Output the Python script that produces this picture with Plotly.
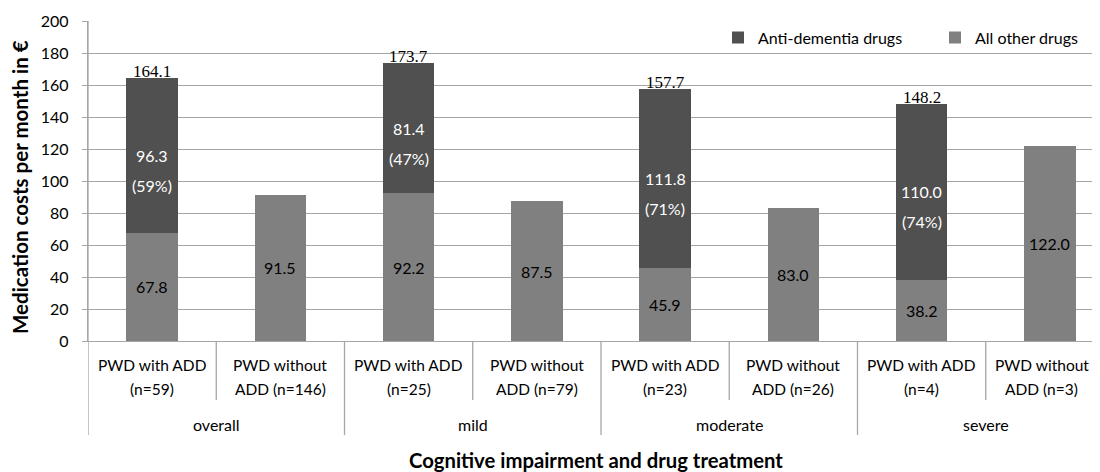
import plotly.graph_objects as go

groups = ["overall", "mild", "moderate", "severe"]
sub_line1 = ["PWD with ADD", "PWD without", "PWD with ADD", "PWD without",
             "PWD with ADD", "PWD without", "PWD with ADD", "PWD without"]
sub_line2 = ["(n=59)", "ADD (n=146)", "(n=25)", "ADD (n=79)",
             "(n=23)", "ADD (n=26)", "(n=4)", "ADD (n=3)"]
other_drugs = [67.8, 91.5, 92.2, 87.5, 45.9, 83.0, 38.2, 122.0]
anti_dementia = [96.3, None, 81.4, None, 111.8, None, 110.0, None]
anti_pct = ["(59%)", None, "(47%)", None, "(71%)", None, "(74%)", None]
totals = [164.1, None, 173.7, None, 157.7, None, 148.2, None]
y_ticks = [0, 20, 40, 60, 80, 100, 120, 140, 160, 180, 200]

DARK = "#505050"
LIGHT = "#808080"
GRID = "#a6a6a6"
SANS = "Lato, 'Open Sans', sans-serif"
SERIF = "'Liberation Serif', 'DejaVu Serif', serif"

x = list(range(len(other_drugs)))
W, L = 1084, 80
PW = W - L

fig = go.Figure()
fig.add_trace(go.Bar(x=x, y=other_drugs, name="All other drugs", legend="legend2",
                     marker=dict(color=LIGHT, line=dict(width=0))))
fig.add_trace(go.Bar(x=x, y=anti_dementia, name="Anti-dementia drugs", legend="legend",
                     marker=dict(color=DARK, line=dict(width=0))))

ann = []
for i in x:
    ann.append(dict(x=i, y=other_drugs[i] / 2, xref="x", yref="y",
                    yanchor="middle", text=f"{other_drugs[i]:.1f}", showarrow=False,
                    font=dict(family=SANS, size=16, color="#000000")))
    if anti_dementia[i] is not None:
        mid = other_drugs[i] + anti_dementia[i] / 2
        ann.append(dict(x=i, y=mid, xref="x", yref="y", yanchor="middle",
                        text=f"{anti_dementia[i]:.1f}", showarrow=False,
                        font=dict(family=SANS, size=16, color="#ffffff")))
        ann.append(dict(x=i, y=mid, xref="x", yref="y", yshift=-30, yanchor="middle",
                        text=anti_pct[i], showarrow=False,
                        font=dict(family=SANS, size=16, color="#ffffff")))
        ann.append(dict(x=i, y=totals[i], xref="x", yref="y",
                        yanchor="bottom", yshift=-5,
                        text=f"{totals[i]:.1f}", showarrow=False,
                        font=dict(family=SERIF, size=17, color="#000000")))
    # keep the last (edge) category label fully inside the visible page
    xs = -8 if i == len(x) - 1 else 0
    ann.append(dict(x=i, y=0, xref="x", yref="paper", yshift=-24, xshift=xs,
                    yanchor="middle", text=sub_line1[i], showarrow=False,
                    font=dict(family=SANS, size=15.5, color="#000000")))
    ann.append(dict(x=i, y=0, xref="x", yref="paper", yshift=-48, xshift=xs,
                    yanchor="middle", text=sub_line2[i], showarrow=False,
                    font=dict(family=SANS, size=15.5, color="#000000")))

for g, name in enumerate(groups):
    ann.append(dict(x=2 * g + 0.5, y=0, xref="x", yref="paper", yshift=-83,
                    yanchor="middle", text=name, showarrow=False,
                    font=dict(family=SANS, size=16, color="#000000")))

ann.append(dict(x=3.5, y=0, xref="x", yref="paper", yshift=-119, xshift=-5,
                xanchor="center", yanchor="middle",
                text="<b>Cognitive impairment and drug treatment</b>",
                showarrow=False, font=dict(family=SANS, size=20.3, color="#000000")))
ann.append(dict(x=0, y=0.5, xref="paper", yref="paper", xshift=-68, yshift=-6,
                xanchor="center", yanchor="middle",
                text="<b>Medication costs per month in €</b>", textangle=-90,
                showarrow=False, font=dict(family=SANS, size=20.5, color="#000000")))

shapes = []
shapes.append(dict(type="line", xref="x", yref="paper", x0=-0.5, x1=-0.5,
                   y0=1, y1=-0.294, line=dict(color=GRID, width=1.3)))
for i in range(1, 8):
    b = i - 0.5
    depth = -0.294 if i % 2 == 0 else -0.184
    shapes.append(dict(type="line", xref="x", yref="paper", x0=b, x1=b,
                       y0=0, y1=depth, line=dict(color=GRID, width=1.3)))

legend_font = dict(family=SANS, size=16, color="#000000")
fig.update_layout(
    width=W, height=472,
    margin=dict(l=L, r=0, t=13, b=139),
    paper_bgcolor="white", plot_bgcolor="white",
    barmode="stack", bargap=0.6,
    showlegend=True,
    legend=dict(orientation="h", x=(710 - L) / PW, xanchor="left", y=0.948,
                yanchor="middle", font=legend_font, bgcolor="rgba(255,255,255,0)"),
    legend2=dict(orientation="h", x=(927 - L) / PW, xanchor="left", y=0.948,
                 yanchor="middle", font=legend_font, bgcolor="rgba(255,255,255,0)"),
    xaxis=dict(range=[-0.5, -0.5 + PW / 128.25], showticklabels=False,
               showgrid=False, zeroline=False, showline=True,
               linecolor=GRID, linewidth=1.3, ticks="", fixedrange=True),
    yaxis=dict(range=[0, 200], tickvals=y_ticks, showgrid=True,
               gridcolor=GRID, gridwidth=1.3, zeroline=False,
               showline=True, linecolor=GRID, linewidth=1.3,
               ticks="outside", ticklen=5, tickcolor=GRID,
               ticklabelstandoff=10,
               tickfont=dict(family=SANS, size=16, color="#000000")),
    annotations=ann, shapes=shapes,
)

fig.write_html("out.html")
